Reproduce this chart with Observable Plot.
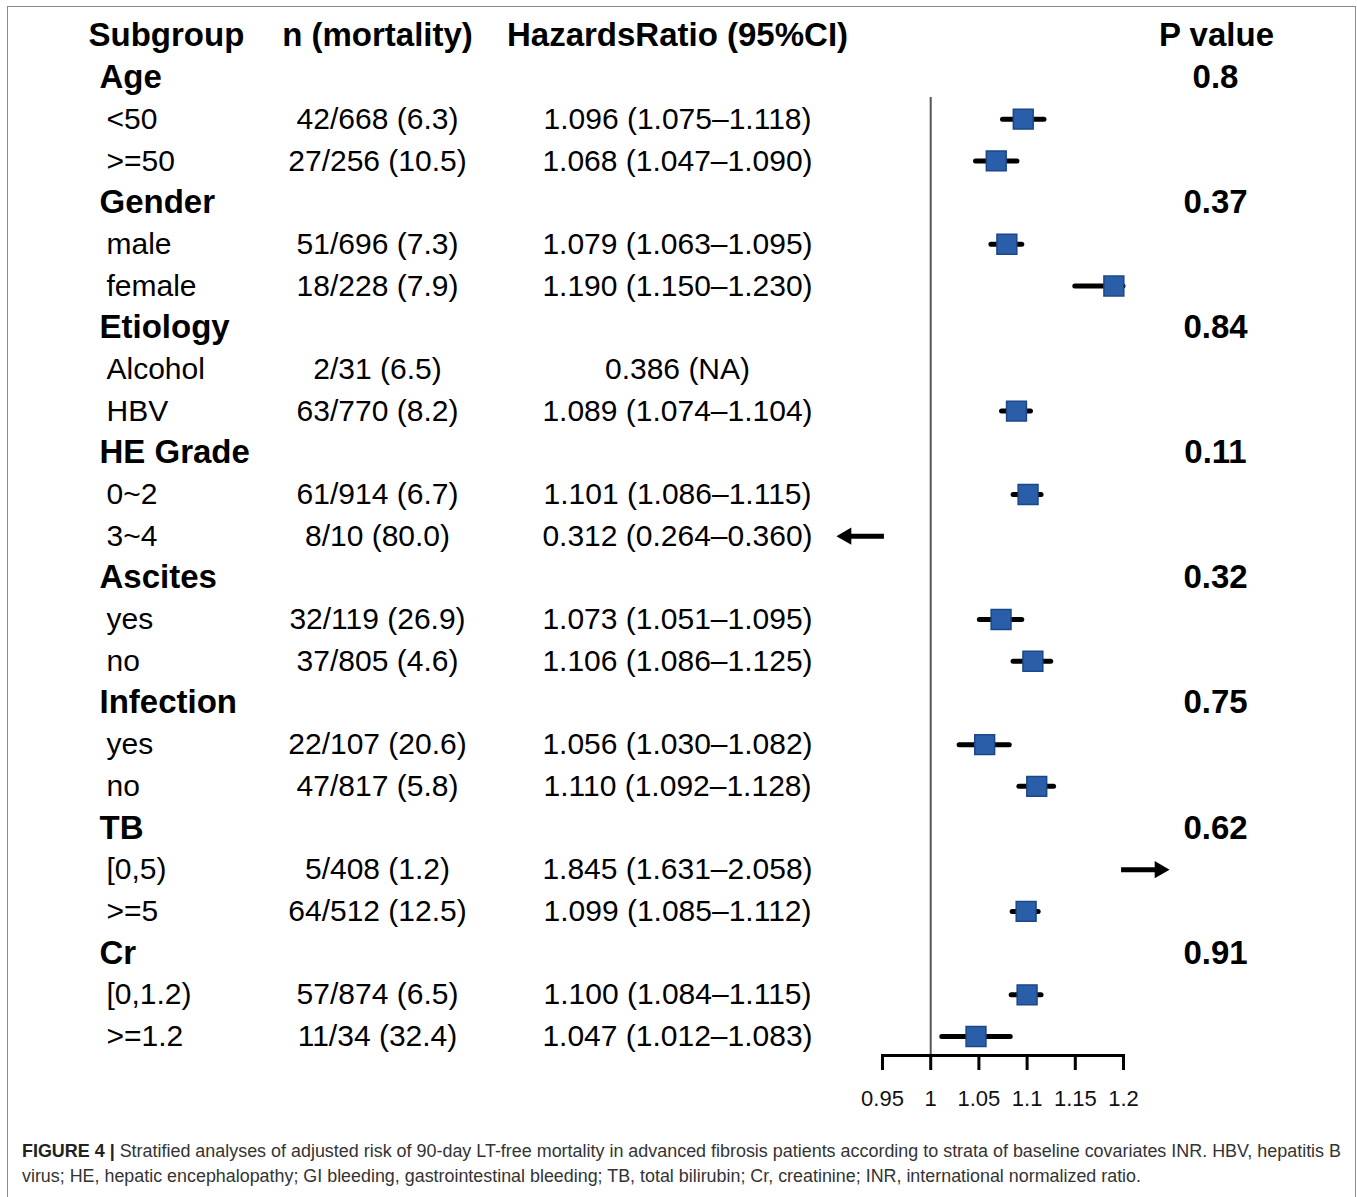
<!DOCTYPE html>
<html><head><meta charset="utf-8">
<script src="https://cdn.jsdelivr.net/npm/d3@7"></script>
<script src="https://cdn.jsdelivr.net/npm/@observablehq/plot@0.6"></script>
<style>
body{margin:0;background:#fff;overflow:hidden;font-family:"Liberation Sans",Arial,Helvetica,sans-serif;}
#wrap{position:relative;width:1357px;height:1197px;overflow:hidden;}
#border{position:absolute;left:7px;top:6px;width:1349px;height:1200px;border:1.5px solid #8a8a8a;box-sizing:border-box;}
#chart{position:absolute;left:0;top:0;}
#caption{position:absolute;left:22px;top:1139px;font-size:17.5px;color:#333;line-height:25px;white-space:nowrap;}
#caption div span{display:inline-block;transform-origin:0 50%;}
</style></head>
<body>
<div id="wrap">
  <div id="border"></div>
  <div id="chart"></div>
  <div id="caption">
    <div><span id="cap1"><b style="color:#222">FIGURE 4 |</b> Stratified analyses of adjusted risk of 90-day LT-free mortality in advanced fibrosis patients according to strata of baseline covariates INR. HBV, hepatitis B</span></div>
    <div><span id="cap2">virus; HE, hepatic encephalopathy; GI bleeding, gastrointestinal bleeding; TB, total bilirubin; Cr, creatinine; INR, international normalized ratio.</span></div>
  </div>
</div>
<script>
// ---- data ----
const headers = ["Subgroup", "n (mortality)", "HazardsRatio (95%CI)", "P value"];
const groups = ["Age", "Gender", "Etiology", "HE Grade", "Ascites", "Infection", "TB", "Cr"];
const pValues = ["0.8", "0.37", "0.84", "0.11", "0.32", "0.75", "0.62", "0.91"];
const subgroupOf = ["Age","Age","Gender","Gender","Etiology","Etiology","HE Grade","HE Grade","Ascites","Ascites","Infection","Infection","TB","TB","Cr","Cr"];
const subgroups = ["<50", ">=50", "male", "female", "Alcohol", "HBV", "0~2", "3~4", "yes", "no", "yes", "no", "[0,5)", ">=5", "[0,1.2)", ">=1.2"];
const deaths = [42, 27, 51, 18, 2, 63, 61, 8, 32, 37, 22, 47, 5, 64, 57, 11];
const totals = [668, 256, 696, 228, 31, 770, 914, 10, 119, 805, 107, 817, 408, 512, 874, 34];
const mortality = [6.3, 10.5, 7.3, 7.9, 6.5, 8.2, 6.7, 80.0, 26.9, 4.6, 20.6, 5.8, 1.2, 12.5, 6.5, 32.4];
const hr = [1.096, 1.068, 1.079, 1.190, 0.386, 1.089, 1.101, 0.312, 1.073, 1.106, 1.056, 1.110, 1.845, 1.099, 1.100, 1.047];
const lower = [1.075, 1.047, 1.063, 1.150, null, 1.074, 1.086, 0.264, 1.051, 1.086, 1.030, 1.092, 1.631, 1.085, 1.084, 1.012];
const upper = [1.118, 1.090, 1.095, 1.230, null, 1.104, 1.115, 0.360, 1.095, 1.125, 1.082, 1.128, 2.058, 1.112, 1.115, 1.083];
const xTicks = [0.95, 1, 1.05, 1.1, 1.15, 1.2];

// ---- layout constants (pixels) ----
const COL_GROUP = 99, COL_SUB = 106, COL_N = 377, COL_HR = 677, COL_P = 1215, COL_HDR0 = 88;
const ML = 882;
const FONT = '"Liberation Sans", Arial, Helvetica, sans-serif';

// ---- build rows ----
const groupRows = [], subRows = [];
let r = 0;
groups.forEach((g, gi) => {
  groupRows.push({row: r, label: g, p: pValues[gi]});
  r++;
  subgroups.forEach((s, i) => {
    if (subgroupOf[i] !== g) return;
    const hrText = lower[i] == null
      ? `${hr[i].toFixed(3)} (NA)`
      : `${hr[i].toFixed(3)} (${lower[i].toFixed(3)}\u2013${upper[i].toFixed(3)})`;
    subRows.push({row: r, label: s, nText: `${deaths[i]}/${totals[i]} (${mortality[i].toFixed(1)})`,
      hrText, hr: hr[i], lo: lower[i], hi: upper[i]});
    r++;
  });
});
const lastRow = r - 1;
const xMin = xTicks[0], xMax = xTicks[xTicks.length - 1];
const inRange = d => d.lo != null && d.hr >= xMin && d.hr <= xMax;
const ciRows = subRows.filter(inRange).map(d => ({...d, x1: Math.max(d.lo, xMin), x2: Math.min(d.hi, xMax)}));
const arrowLen = 0.048, headOff = 0.0105;
const arrowRows = subRows.filter(d => d.lo != null && (d.hi < xMin || d.lo > xMax)).map(d => {
  const dir = d.hi < xMin ? -1 : 1;
  const b = dir < 0 ? xMin : xMax;
  return {row: d.row, dir, x1: b - dir * 0.002, x2: b + dir * (arrowLen - headOff)};
});

const headerRows = [
  {label: headers[0], x: COL_HDR0, anchor: "start"},
  {label: headers[1], x: COL_N, anchor: "middle"},
  {label: headers[2], x: COL_HR, anchor: "middle"},
  {label: headers[3], x: COL_P + 1, anchor: "middle"}
];

const textCol = (data, text, col, anchor, opts = {}) =>
  Plot.text(data, {y: "row", text, frameAnchor: "left", dx: col - ML, textAnchor: anchor,
    lineAnchor: "middle", fill: "#000", ...opts});

const chart = Plot.plot({
  width: 1357, height: 1125,
  marginLeft: ML, marginRight: 1357 - 1123, marginTop: 97, marginBottom: 70,
  x: {domain: [xMin, xMax], axis: null},
  y: {domain: [0, lastRow], range: [77, 1036], axis: null},
  style: {fontFamily: FONT, background: "transparent", overflow: "visible"},
  marks: [
    // headers
    ...headerRows.map(h => Plot.text([h], {y: () => -1, text: "label", frameAnchor: "left", dx: h.x - ML,
      textAnchor: h.anchor, lineAnchor: "middle", fontSize: 33, fontWeight: "bold", fill: "#000"})),
    // group labels and p values
    textCol(groupRows, "label", COL_GROUP, "start", {fontSize: 33, fontWeight: "bold"}),
    textCol(groupRows, "p", COL_P, "middle", {fontSize: 33, fontWeight: "bold"}),
    // subgroup rows
    textCol(subRows, "label", COL_SUB, "start", {fontSize: 30}),
    textCol(subRows, "nText", COL_N, "middle", {fontSize: 30}),
    textCol(subRows, "hrText", COL_HR, "middle", {fontSize: 30}),
    // reference line
    Plot.ruleX([1], {stroke: "#555", strokeWidth: 2}),
    // axis
    Plot.frame({anchor: "bottom", stroke: "#000", strokeWidth: 3}),
    Plot.axisX({ticks: xTicks, tickFormat: d => String(d), tickSize: 15, tickPadding: 20,
      fontSize: 22, strokeWidth: 3, stroke: "#000", fill: "#111", label: null}),
    // CIs
    Plot.ruleY(ciRows, {y: "row", x1: "x1", x2: "x2", stroke: "#000", strokeWidth: 5, strokeLinecap: "round"}),
    Plot.dot(ciRows, {y: "row", x: "hr", symbol: "square", r: 11.2, fill: "#2a5ea9", stroke: "#1b4788", strokeWidth: 1.5}),
    // arrows for out-of-range estimates
    Plot.ruleY(arrowRows, {y: "row", x1: "x1", x2: "x2", stroke: "#000", strokeWidth: 5}),
    Plot.dot(arrowRows, {y: "row", x: "x2", symbol: "triangle", r: 6.4, fill: "#000", stroke: "none",
      rotate: d => d.dir * 90})
  ]
});
document.getElementById("chart").appendChild(chart);

// fit caption lines to the reference widths (condensed like the original)
const fit = (id, target) => {
  const el = document.getElementById(id);
  const w = el.getBoundingClientRect().width;
  el.style.transform = `scaleX(${target / w})`;
};
fit("cap1", 1319);
fit("cap2", 1119);
</script>
</body></html>
